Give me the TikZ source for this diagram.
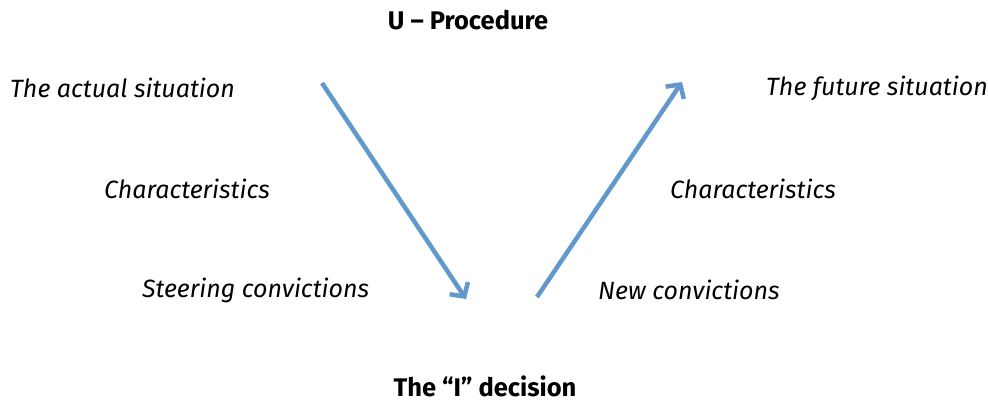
\documentclass[tikz,border=0pt]{standalone}
\usepackage{fontspec}
\setmainfont{Fira Sans}
\usetikzlibrary{arrows.meta}
\definecolor{arrowblue}{RGB}{98,152,206}
\begin{document}
\begin{tikzpicture}[x=1pt,y=-1pt,
  lbl/.style={font=\fontsize{25}{30}\selectfont\itshape, inner sep=0pt, anchor=west},
  ttl/.style={font=\fontsize{25.5}{30}\selectfont\bfseries, inner sep=0pt, anchor=base},
  flow/.style={draw=arrowblue, line width=4.5pt, -{Straight Barb[length=10pt,width=22pt,line width=4.5pt]}}]
\useasboundingbox (0,0) rectangle (988,401);
\node[ttl] (title) at (468,30) {U – Procedure};
\node[ttl] (dec) at (485,396) {The “I” decision};
\node[lbl] (act) at (10,88) {The actual situation};
\node[lbl] (char1) at (104,189) {Characteristics};
\node[lbl] (steer) at (142,290) {Steering convictions};
\node[lbl] (fut) at (766,88) {The future situation};
\node[lbl] (char2) at (670,189) {Characteristics};
\node[lbl] (new) at (598,290) {New convictions};
\coordinate (a1s) at (322,83);
\coordinate (a1e) at (466,299);
\coordinate (a2s) at (537,297);
\coordinate (a2e) at (682,82);
\draw[flow] (a1s) -- (a1e);
\draw[flow] (a2s) -- (a2e);
\end{tikzpicture}
\end{document}
